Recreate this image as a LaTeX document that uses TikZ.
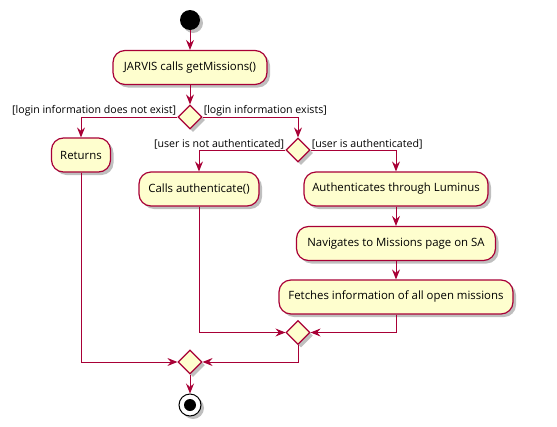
\documentclass[tikz,border=0pt]{standalone}
\usepackage{fontspec}
\setmainfont{Open Sans}
\usetikzlibrary{arrows.meta,shapes.geometric,shadows}
\definecolor{umlred}{HTML}{A80036}
\definecolor{umlfill}{HTML}{FEFECE}
\tikzset{
	shade/.style={drop shadow={shadow xshift=3pt,shadow yshift=-3pt,opacity=0.25,fill=black}},
	act/.style={draw=umlred,fill=umlfill,line width=1.2pt,rounded corners=12pt,inner xsep=0pt,
		minimum height=34pt,font=\fontsize{11.4}{13}\selectfont,shade},
	choice/.style={diamond,draw=umlred,fill=umlfill,line width=1.2pt,aspect=1,inner sep=0pt,
		minimum size=24pt,shade},
	guard/.style={font=\fontsize{10.6}{12}\selectfont,inner sep=1pt},
	flow/.style={draw=umlred,line width=1pt,-{Stealth[length=10pt,width=8pt,inset=3.5pt]}}
}
\begin{document}
\begin{tikzpicture}[x=1pt,y=-1pt]
			%%%%% START %%%%%
			\useasboundingbox (0,0) rectangle (557,426);
			
			\node[circle,fill=black,minimum size=20pt,inner sep=0pt,shade] (start) at (190,20) {};
			\node[act,minimum width=154pt] (getmissions) at (190,67.5) {JARVIS calls getMissions()};
			\node[choice] (login) at (190,117) {};
			\node[act,minimum width=59pt] (returns) at (81,155) {Returns};
			\node[choice] (authq) at (298,150) {};
			\node[act,minimum width=120pt] (callauth) at (199,189) {Calls authenticate()};
			\node[act,minimum width=184pt] (luminus) at (396,189) {Authenticates through Luminus};
			\node[act,minimum width=199pt] (navigate) at (396,243.5) {Navigates to Missions page on SA};
			\node[act,minimum width=234pt] (fetch) at (396,297) {Fetches information of all open missions};
			\node[choice] (mergeauth) at (298,332.5) {};
			\node[choice] (mergelogin) at (190,362) {};
			\node[circle,draw=black,fill=white,line width=1pt,minimum size=22pt,inner sep=0pt,shade] (stop) at (190,405) {};
			\fill[black] (stop.center) circle (6);
			
			% guards
			\node[guard,anchor=south east] at (login.west) {[login information does not exist]};
			\node[guard,anchor=south west] at (login.east) {[login information exists]};
			\node[guard,anchor=south east] at (authq.west) {[user is not authenticated]};
			\node[guard,anchor=south west] at (authq.east) {[user is authenticated]};
			
			% flows
			\draw[flow] (start) -- (getmissions);
			\draw[flow] (getmissions) -- (login);
			\draw[flow] (login.west) -| (returns);
			\draw[flow] (login.east) -| (authq);
			\draw[flow] (authq.west) -| (callauth);
			\draw[flow] (authq.east) -| (luminus);
			\draw[flow] (luminus) -- (navigate);
			\draw[flow] (navigate) -- (fetch);
			\draw[flow] (callauth) |- (mergeauth);
			\draw[flow] (fetch) |- (mergeauth);
			\draw[flow] (returns) |- (mergelogin);
			\draw[flow] (mergeauth) |- (mergelogin);
			\draw[flow] (mergelogin) -- (stop);
			%%%%% END %%%%%
\end{tikzpicture}
\end{document}
